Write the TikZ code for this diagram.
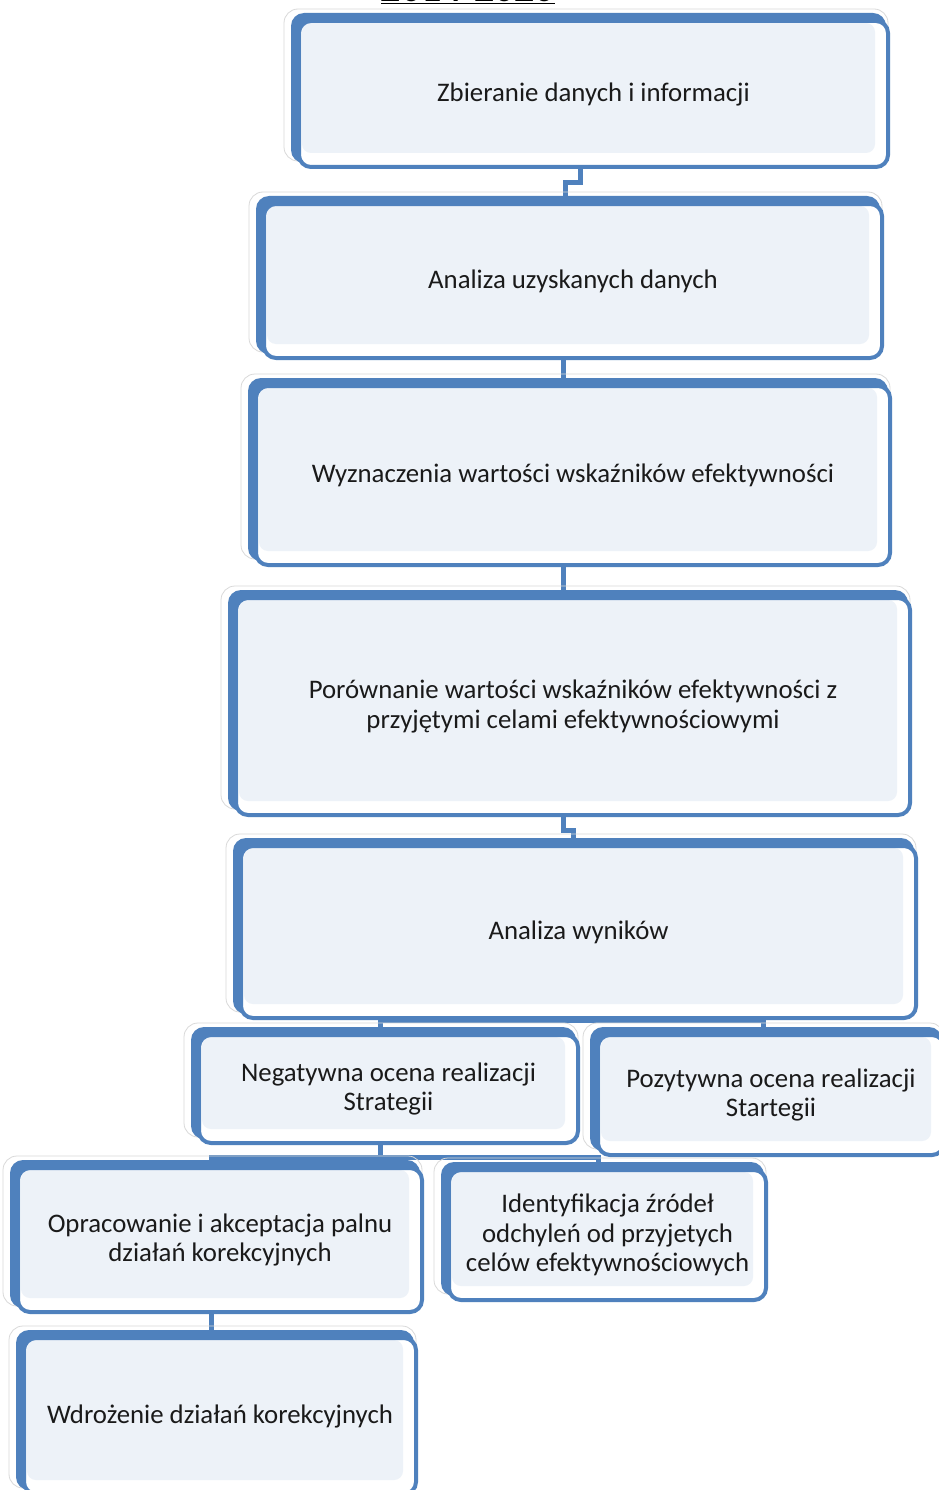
\documentclass[tikz,border=0pt]{standalone}
\usepackage{fontspec}
\setmainfont{Carlito}
\usetikzlibrary{backgrounds,calc}
\definecolor{bb}{HTML}{4F81BD}
\definecolor{lf}{HTML}{EDF2F8}
\definecolor{txt}{HTML}{1A1A1A}
\tikzset{
  boxnode/.style={draw=bb, line width=4pt, fill=white, rounded corners=12pt,
    inner sep=0pt, align=center, text=txt,
    font=\fontsize{26.8}{29.5}\selectfont,
    path picture={\fill[lf, rounded corners=9pt]
      ([shift={(3pt,-2pt)}]path picture bounding box.north west) rectangle
      ([shift={(-13pt,14pt)}]path picture bounding box.south east);}},
  ghost/.style={draw=black!15, line width=0.8pt, rounded corners=14pt},
  conn/.style={draw=bb, line width=5pt}
}
% name, x1, y1, x2, y2, text
\newcommand\flowbox[6]{%
  \draw[ghost] (#2-7,#3-4) rectangle (#4-2,#5-8);
  \fill[bb, rounded corners=13pt] (#2,#3) rectangle (#4-4,#5-6);
  \node[boxnode, minimum width={#4-#2-10}, minimum height={#5-#3-10}]
    (#1) at ({(#2+#4)/2+3},{(#3+#5)/2+3}) {#6};
}
\begin{document}
\begin{tikzpicture}[x=1pt,y=-1pt]
\useasboundingbox (0,0) rectangle (938,1490);

\node[anchor=base, font=\fontsize{40}{44}\selectfont\bfseries, inner sep=0pt]
  (title) at (468,2) {\underline{2014-2020}};

\flowbox{n1}{291}{13}{890}{169}{Zbieranie danych i informacji}
\flowbox{n2}{256}{196}{884}{360}{Analiza uzyskanych danych}
\flowbox{n3}{248}{378}{892}{567}{Wyznaczenia wartości wskaźników efektywności}
\flowbox{n4}{228}{590}{912}{817}{Porównanie wartości wskaźników efektywności z\\przyjętymi celami efektywnościowymi}
\flowbox{n5}{233}{838}{918}{1020}{Analiza wyników}
\flowbox{n6}{191}{1027}{580}{1145}{Negatywna ocena realizacji\\Strategii}
\flowbox{n7}{590}{1027}{946}{1157}{Pozytywna ocena realizacji\\Startegii}
\flowbox{n8}{10}{1160}{424}{1314}{Opracowanie i akceptacja palnu\\działań korekcyjnych}
\flowbox{n9}{441}{1162}{768}{1302}{Identyfikacja źródeł\\odchyleń od przyjetych\\celów efektywnościowych}
\flowbox{n10}{16}{1330}{418}{1496}{Wdrożenie działań korekcyjnych}

\begin{scope}[on background layer]
\fill[white] (0,0) rectangle (938,1490);
\draw[conn] ([xshift=-13.5pt]n1.south) -- ++(0pt,-14pt) -| ([xshift=-8pt]n2.north);
\draw[conn] ([xshift=-10pt]n2.south) -- ([xshift=-10pt]n3.north);
\draw[conn] ([xshift=-10pt]n3.south) -- ([xshift=-10pt]n4.north);
\draw[conn] ([xshift=-10pt]n4.south) -- ++(0pt,-13pt) -| ([xshift=-5.5pt]n5.north);
\coordinate (j5) at (n5.south);
\draw[conn] (j5) -| ([xshift=-8.5pt]n6.north);
\draw[conn] (j5) -| ([xshift=-8pt]n7.north);
\draw[conn] ([xshift=-8.5pt]n6.south) -- ++(0pt,-12pt) coordinate (j6);
\draw[conn] (j6) -| ([xshift=-9pt]n8.north);
\draw[conn] (j6) -| ([xshift=-9.5pt]n9.north);
\draw[conn] ([xshift=-9pt]n8.south) -- ([xshift=-9pt]n10.north);
\end{scope}
\end{tikzpicture}
\end{document}
